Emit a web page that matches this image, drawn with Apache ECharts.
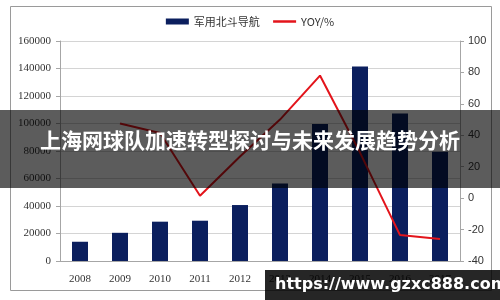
<!DOCTYPE html>
<html>
<head>
<meta charset="utf-8">
<script src="https://cdn.jsdelivr.net/npm/echarts@6/dist/echarts.min.js"></script>
<style>html,body{margin:0;padding:0;background:#fff}#c{width:500px;height:300px}</style>
</head>
<body>
<div id="c"></div>
<script>
const years = ['2008','2009','2010','2011','2012','2013','2014','2015','2016','2017'];
const navValues = [14000, 20500, 28600, 29300, 40700, 56300, 99600, 141500, 107300, 79500];
const yoyValues = [null, 47.5, 41.5, 1.5, 26.5, 50, 78, 29, -23.5, -26];
const leftTicks = [0, 160000, 20000];
const rightTicks = [-40, 100, 20];
const titleText = '上海网球队加速转型探讨与未来发展趋势分析';
const watermark = 'https://www.gzxc888.com';

const chart = echarts.init(document.getElementById('c'), null, {renderer: 'canvas'});
chart.setOption({
  animation: false,
  backgroundColor: '#fff',
  legend: {
    top: 11,
    left: 'center',
    itemGap: 12,
    itemWidth: 23,
    itemHeight: 6,
    textStyle: {fontFamily: 'Noto Sans CJK SC', fontSize: 11, color: '#333'},
    data: [
      {name: '军用北斗导航', icon: 'rect'},
      {name: 'YOY/%', itemStyle: {opacity: 0}, lineStyle: {width: 2.5, color: '#e3141b'}}
    ]
  },
  grid: {left: 60, right: 40, top: 41, bottom: 39},
  xAxis: {
    type: 'category',
    data: years,
    axisLine: {lineStyle: {color: '#a6a6a6'}},
    axisTick: {alignWithLabel: false, length: 4, lineStyle: {color: '#a6a6a6'}},
    axisLabel: {fontFamily: 'Liberation Serif', fontSize: 11, color: '#333', margin: 13}
  },
  yAxis: [{
    type: 'value',
    min: leftTicks[0], max: leftTicks[1], interval: leftTicks[2],
    axisLine: {show: true, lineStyle: {color: '#a6a6a6'}},
    axisTick: {show: true, length: 4, lineStyle: {color: '#a6a6a6'}},
    splitLine: {lineStyle: {color: '#d4d4d4'}},
    axisLabel: {fontFamily: 'Liberation Serif', fontSize: 11, color: '#333', margin: 9, formatter: v => String(v)}
  }, {
    type: 'value',
    min: rightTicks[0], max: rightTicks[1], interval: rightTicks[2],
    axisLine: {show: true, lineStyle: {color: '#a6a6a6'}},
    axisTick: {show: true, length: 4, lineStyle: {color: '#a6a6a6'}},
    splitLine: {show: false},
    axisLabel: {fontFamily: 'Liberation Sans', fontSize: 11, color: '#333', margin: 8}
  }],
  series: [{
    name: '军用北斗导航',
    type: 'bar',
    data: navValues,
    barWidth: 16,
    itemStyle: {color: '#0b1f5e'}
  }, {
    name: 'YOY/%',
    type: 'line',
    yAxisIndex: 1,
    data: yoyValues,
    showSymbol: false,
    symbol: 'none',
    lineStyle: {color: '#e3141b', width: 2},
    itemStyle: {color: '#e3141b'}
  }],
  graphic: [
    {type: 'rect', left: 8, top: 4, shape: {width: 481, height: 284}, style: {fill: 'none', stroke: '#9a9a9a', lineWidth: 1}, z: 100},
    {type: 'rect', left: 0, top: 110, shape: {width: 500, height: 78}, style: {fill: 'rgba(0,0,0,0.64)'}, z: 100},
    {type: 'text', left: 'center', top: 130, style: {text: titleText, fill: '#fff', font: 'bold 21px "Noto Sans CJK SC"'}, z: 101},
    {type: 'rect', left: 265, top: 270, shape: {width: 235, height: 30}, style: {fill: 'rgba(0,0,0,0.85)'}, z: 100},
    {type: 'text', left: 275, top: 277, style: {text: watermark, fill: '#fff', font: 'bold 16px "DejaVu Sans"'}, z: 101}
  ]
});
</script>
</body>
</html>
